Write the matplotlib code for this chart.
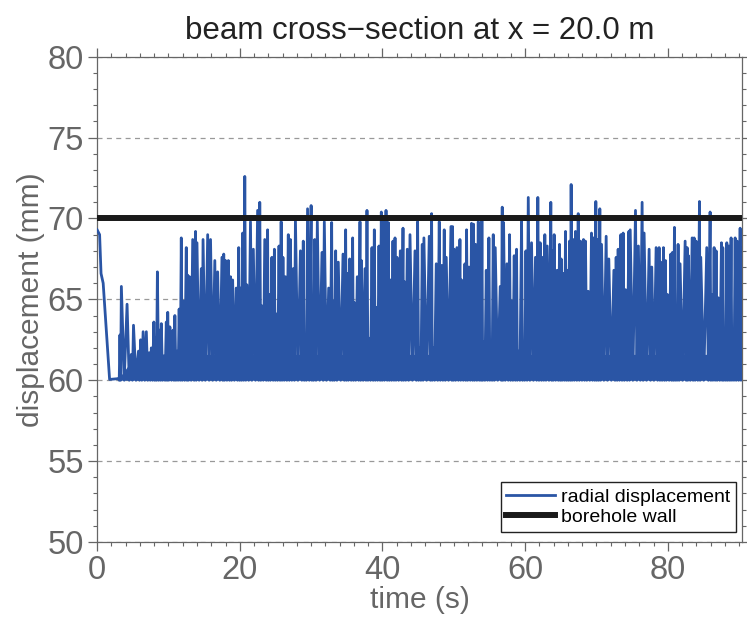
import matplotlib
matplotlib.use("Agg")
import matplotlib.pyplot as plt
from matplotlib.ticker import MultipleLocator

# start of the record: drop from the initial offset down to the contact level
start_t = [0.0, 0.35, 0.55, 0.85, 1.75, 3.0]
start_v = [69.3, 69.0, 66.6, 66.0, 60.05, 60.1]

# spike peaks (time s, displacement mm)
peak_t = [3.2, 3.4, 4.2, 4.8, 5.1, 5.8, 6.1, 6.45, 6.9, 7.3, 7.6, 7.95, 8.2, 8.45, 8.8, 9.0,
          9.35, 9.7, 9.9, 10.2, 10.65, 10.9, 11.2, 11.5, 11.8, 12.05, 12.5, 12.7, 12.95, 13.4,
          13.8, 14.0, 14.6, 14.85,
          15.5, 15.9, 16.5, 16.9, 17.5, 17.75, 18.0, 18.4, 18.7, 19.0, 19.5, 19.85, 20.1, 20.4,
          20.7, 21.0, 21.5, 21.9, 22.5, 22.8, 23.1, 23.5, 23.9, 24.1, 24.5, 24.85, 25.1, 25.5,
          25.8, 26.05, 26.4, 26.8, 27.1, 27.5, 27.8, 28.5, 28.9, 29.15, 29.5, 30.0, 30.2,
          30.5, 30.87, 31.52, 31.85, 32.46, 32.88, 33.06, 33.44, 33.81, 34.47, 34.84, 35.07,
          35.4, 35.82, 36.05, 36.47, 36.85, 37.04, 37.55, 37.83, 38.11, 38.53, 38.86, 39.14,
          39.51, 39.84, 40.07, 40.5, 40.82, 41.1, 41.47, 41.76, 42.04, 42.5, 42.88, 43.06,
          43.48, 43.86, 44.56, 44.93, 45.21,
          45.58, 45.81, 46.56, 46.89, 47.07, 47.54, 47.96, 48.29, 48.66, 48.94, 49.6, 49.83,
          50.06, 50.44, 50.86, 51.09, 51.56, 51.79, 52.12, 52.49, 52.77, 53.05, 53.43, 53.71,
          53.94, 54.17, 54.55, 54.92, 55.2, 55.53, 55.81, 56.51, 56.79, 56.98, 57.45, 57.82,
          58.1, 58.47, 58.8, 59.03, 59.5, 59.78, 60.11, 60.44,
          60.9, 61.45, 61.78, 62.11, 62.48, 62.76, 63.09, 63.6, 63.84, 64.07, 64.49, 64.82,
          65.05, 65.33, 65.66, 65.89, 66.22, 66.45, 66.73, 67.06, 67.44, 67.76, 68.18, 68.46,
          68.84, 69.3, 69.59, 69.91, 70.15, 70.47, 70.71, 71.36, 71.73, 72.44, 72.76, 73.04,
          73.42, 73.74, 74.07, 74.54, 74.73, 75.47,
          75.88, 76.4, 76.68, 77.38, 77.75, 78.36, 78.78, 79.01, 79.39, 79.67, 79.95, 80.42,
          80.65, 80.93, 81.16, 81.44, 81.72, 82.43, 82.71, 82.89, 83.41, 83.69, 83.97, 84.44,
          84.62, 85.46, 85.93, 86.16, 86.49, 86.77, 87.05, 87.52, 87.71, 87.99, 88.27, 88.55,
          88.87, 89.11, 89.44, 89.72, 90.14, 90.37]
peak_v = [62.8, 65.8, 64.7, 61.6, 63.4, 61.8, 62.5, 63.0, 63.0, 61.7, 62.0, 63.6, 62.6, 66.7, 63.1, 63.5,
          61.5, 63.6, 64.2, 63.3, 63.1, 64.0, 61.8, 64.4, 68.8, 64.9, 68.2, 66.5, 66.4, 68.7,
          69.2, 68.5, 66.9, 68.7,
          69.0, 68.7, 67.4, 66.7, 67.6, 67.8, 67.4, 67.4, 66.4, 66.2, 65.7, 68.2, 65.7, 69.1,
          72.6, 65.9, 69.8, 68.1, 70.5, 71.0, 64.6, 68.7, 69.3, 65.3, 67.6, 68.1, 64.1, 68.3,
          69.8, 67.6, 66.4, 69.0, 68.7, 66.9, 70.0, 68.0, 68.6, 62.4, 70.6, 70.8, 62.8,
          68.7, 69.8, 67.9, 69.8, 65.7, 69.75, 64.9, 68.0, 67.3, 67.8, 69.3, 66.6,
          67.5, 68.8, 64.8, 66.4, 69.8, 67.4, 66.9, 70.5, 62.6, 68.2, 69.3, 64.5,
          68.3, 70.4, 69.9, 70.5, 69.75, 66.2, 68.6, 68.8, 67.6, 68.0, 69.4, 66.1,
          68.1, 69.0, 68.0, 69.8, 62.0,
          68.4, 68.8, 68.9, 70.3, 62.0, 67.2, 69.8, 67.1, 69.3, 67.6, 69.5, 69.5,
          68.1, 68.2, 68.7, 66.2, 67.2, 69.3, 67.0, 69.7, 69.65, 68.4, 69.8, 68.1,
          69.85, 62.4, 66.8, 68.8, 62.2, 69.0, 68.2, 65.8, 70.7, 69.75, 67.2, 69.0,
          64.9, 67.7, 68.1, 61.8, 69.8, 61.6, 68.0, 71.3,
          68.5, 67.6, 71.3, 68.5, 67.6, 69.0, 68.3, 71.0, 68.0, 69.0, 66.8, 68.4,
          67.5, 66.6, 69.2, 66.8, 68.6, 72.1, 68.7, 69.2, 70.3, 68.6, 68.7, 68.6,
          65.5, 69.1, 68.8, 71.05, 68.7, 70.6, 68.4, 68.9, 67.5, 66.8, 67.6, 68.1,
          69.0, 69.1, 65.6, 69.2, 69.3, 70.5,
          68.3, 71.0, 69.1, 68.1, 67.0, 68.2, 68.2, 67.3, 68.2, 67.4, 65.3, 67.8,
          67.9, 69.45, 62.8, 68.4, 67.2, 68.6, 68.2, 67.7, 68.8, 68.8, 68.6, 71.05,
          67.6, 68.2, 70.4, 65.3, 68.2, 68.0, 65.1, 68.5, 68.2, 62.1, 68.5, 68.3,
          68.8, 62.4, 68.8, 68.6, 69.4, 68.2]

# the dense small oscillation along the bottom (60 mm up to ~61.5 mm)
band_t = [3.0, 4.5, 6.0, 90.4]
band_top = [60.1, 61.0, 61.6, 61.6]
contact = 60.0

wall_t = [0.0, 90.4]
wall_v = [70.0, 70.0]

blue = "#2a55a5"
grey = "#666666"

# line goes back down to the contact level between two peaks
t = list(start_t)
v = list(start_v)
prev = start_t[-1]
for pt, pv in zip(peak_t, peak_v):
    t.append((prev + pt) / 2)
    v.append(contact)
    t.append(pt)
    v.append(pv)
    prev = pt

plt.rcParams['font.family'] = ['Liberation Sans', 'DejaVu Sans']

fig = plt.figure(figsize=(7.47, 6.18), dpi=100)
ax = fig.add_axes([0.13, 0.123, 0.8633, 0.7852])

ax.fill_between(band_t, contact, band_top, color=blue, lw=0, zorder=2)
ax.plot(t, v, color=blue, lw=2.0, label='radial displacement', zorder=3)
ax.plot(wall_t, wall_v, color="#1a1a1a", lw=4.3, label='borehole wall', zorder=4)

ax.set_xlim(0, 90.4)
ax.set_ylim(50, 80)
ax.xaxis.set_major_locator(MultipleLocator(20))
ax.xaxis.set_minor_locator(MultipleLocator(2))
ax.yaxis.set_major_locator(MultipleLocator(5))
ax.yaxis.set_minor_locator(MultipleLocator(1))
ax.yaxis.grid(True, linestyle=(0, (4, 3.5)), color="#999999", lw=0.9, zorder=0)
ax.set_axisbelow(True)

ax.tick_params(which='both', direction='out', top=True, right=True, colors=grey,
               labelsize=23.5, pad=3)
ax.tick_params(which='major', length=6.5, width=0.9)
ax.tick_params(which='minor', length=3.2, width=0.8)
for s in ax.spines.values():
    s.set_color(grey)
    s.set_linewidth(0.9)

ax.set_xlabel('time (s)', fontsize=21.5, color=grey, labelpad=0)
ax.set_ylabel('displacement (mm)', fontsize=21.5, color=grey, labelpad=2)
ax.set_title('beam cross\u2212section at x = 20.0 m', fontsize=22.5, color="#222222", pad=13)

leg = ax.legend(loc='lower right', bbox_to_anchor=(0.9907, 0.0206), borderaxespad=0,
                fontsize=14, fancybox=False, framealpha=1, edgecolor='#222222',
                borderpad=0.3, handlelength=2.5, handletextpad=0.3, labelspacing=0.15)
leg.get_frame().set_linewidth(1.0)

fig.savefig('out.png', dpi=100)
